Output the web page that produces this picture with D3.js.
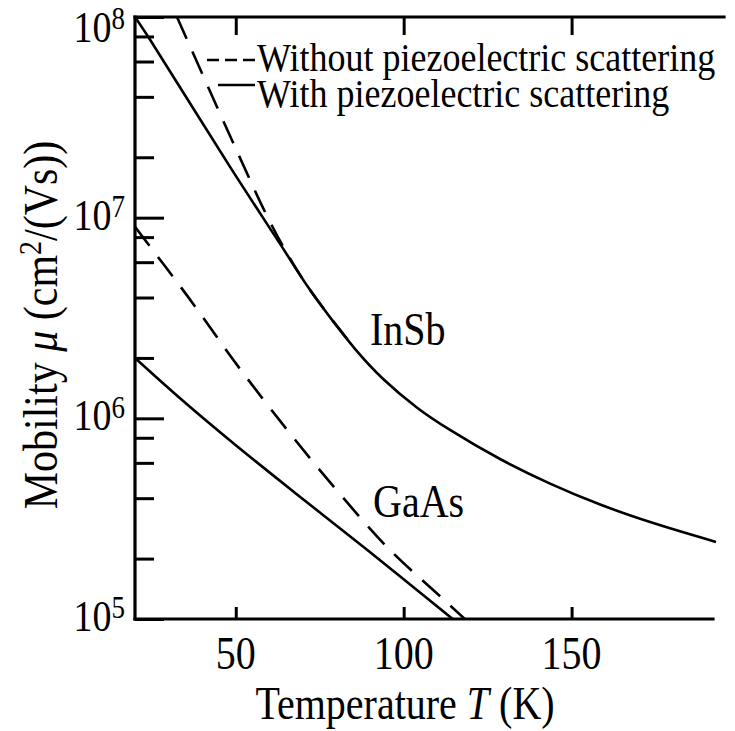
<!DOCTYPE html>
<html><head><meta charset="utf-8">
<script src="https://cdn.jsdelivr.net/npm/d3@7"></script>
<style>
body{margin:0;background:#fff}
svg{display:block}
text{font-family:"Liberation Serif","Times New Roman",serif;fill:#000}
</style>
</head><body>
<svg id="c" width="735" height="731"></svg>
<script>
// ---- data ----
const insbWithT    = [20, 24.5, 48.3, 63.2, 72.1, 85.5, 93.9, 104, 113.8, 128.7, 143.6, 158.5, 173.4, 193];
const insbWith     = [1.0e8, 7.7e7, 1.79e7, 7.4e6, 4.37e6, 2.22e6, 1.57e6, 1.13e6, 8.75e5, 6.27e5, 4.73e5, 3.72e5, 3.04e5, 2.42e5];
const insbWithoutT = [32.5, 42.3, 51.3, 58.7, 64.7, 72.1, 85.5];
const insbWithout  = [1.0e8, 4.28e7, 1.98e7, 1.07e7, 6.9e6, 4.37e6, 2.22e6];
const gaasWithoutT = [20, 35.8, 51.3, 68.2, 81.0, 95.3, 111.7, 118.2];
const gaasWithout  = [9.0e6, 4.03e6, 1.76e6, 7.62e5, 4.2e5, 2.26e5, 1.26e5, 1.0e5];
const gaasWithT    = [20, 33.4, 49.2, 69.1, 89.0, 114.6];
const gaasWith     = [2.0e6, 1.26e6, 7.54e5, 4.07e5, 2.22e5, 1.0e5];

const xTickValues = [50, 100, 150];
const yMajorValues = [1e5, 1e6, 1e7, 1e8];
const yExponents = ["5", "6", "7", "8"];
const yMinorValues = [2e5,4e5,6e5,8e5, 2e6,4e6,6e6,8e6, 2e7,4e7,6e7,8e7];
const legendLabels = ["Without piezoelectric scattering", "With piezoelectric scattering"];
const curveLabels = ["InSb", "GaAs"];

// ---- drawing ----
const svg = d3.select("#c");
const x = d3.scaleLinear().domain([20, 193]).range([135, 716]);
const y = d3.scaleLog().domain([1e5, 1e8]).range([619, 17]);
const SY = 1.15; // vertical stretch of the lettering

svg.append("clipPath").attr("id","clip").append("rect")
  .attr("x", x(20)).attr("y", y(1e8)).attr("width", 600).attr("height", y(1e5)-y(1e8));

const line = d3.line().x(d=>x(d[0])).y(d=>y(d[1])).curve(d3.curveCatmullRom.alpha(0.5));
const zip = (a,b)=>a.map((v,i)=>[v,b[i]]);
const plot = svg.append("g").attr("clip-path","url(#clip)");
function curve(T, V, dashed){
  plot.append("path").datum(zip(T,V)).attr("d", line)
    .attr("fill","none").attr("stroke","#000").attr("stroke-width",2.6)
    .attr("stroke-dasharray", dashed ? "24,14" : null);
}
curve(insbWithoutT, insbWithout, true);
curve(insbWithT, insbWith, false);
curve(gaasWithT, gaasWith, false);
curve(gaasWithoutT, gaasWithout, true);

// axes ticks
function styleAxis(g){
  g.select(".domain").remove();
  g.selectAll(".tick line").attr("stroke","#000").attr("stroke-width",3);
  g.selectAll(".tick text").remove();
}
svg.append("g").attr("transform",`translate(${x(20)},0)`)
  .call(d3.axisRight(y).tickValues(yMajorValues).tickSize(29)).call(styleAxis);
svg.append("g").attr("transform",`translate(${x(20)},0)`)
  .call(d3.axisRight(y).tickValues(yMinorValues).tickSize(19)).call(styleAxis);
svg.append("g").attr("transform",`translate(0,${y(1e5)})`)
  .call(d3.axisTop(x).tickValues(xTickValues).tickSize(12)).call(styleAxis);
svg.append("g").attr("transform",`translate(0,${y(1e8)})`)
  .call(d3.axisBottom(x).tickValues(xTickValues).tickSize(18)).call(styleAxis);

// frame lines
const fr = svg.append("g").attr("stroke","#000").attr("stroke-width",3.2).attr("stroke-linecap","square");
fr.append("line").attr("x1",x(20)).attr("x2",x(20)).attr("y1",y(1e8)).attr("y2",y(1e5));
fr.append("line").attr("x1",x(20)).attr("x2",x(193)-3).attr("y1",y(1e5)).attr("y2",y(1e5));
fr.append("line").attr("x1",x(20)).attr("x2",x(193)+8).attr("y1",y(1e8)).attr("y2",y(1e8));

function stext(px, py, size, anchor, sy){
  return svg.append("text")
    .attr("transform",`translate(${px},${py}) scale(1,${sy || SY})`)
    .attr("font-size", size).attr("text-anchor", anchor || "start");
}

// y tick labels
yMajorValues.forEach((v,i)=>{
  const t = stext(125, Math.max(y(v)+12, 42), 38, "end");
  t.append("tspan").text("10");
  t.append("tspan").attr("font-size",27).attr("dy",-11).text(yExponents[i]);
});
// x tick labels
xTickValues.forEach(v=>{
  stext(x(v), 669, 40, "middle").text(v);
});

// axis titles
const xt = stext(405, 719, 40, "middle");
xt.append("tspan").text("Temperature ");
xt.append("tspan").attr("font-style","italic").text("T");
xt.append("tspan").text(" (K)");

const yt = svg.append("text")
  .attr("transform",`translate(57,325) rotate(-90) scale(1,${SY})`)
  .attr("font-size",42).attr("text-anchor","middle");
yt.append("tspan").text("Mobility ");
yt.append("tspan").attr("font-style","italic").text("μ");
yt.append("tspan").text(" (cm");
yt.append("tspan").attr("font-size",28).attr("dy",-14).text("2");
yt.append("tspan").attr("dy",14).text("/(Vs))");

// curve labels
stext(370, 345, 40).text(curveLabels[0]);
stext(373, 517, 40).text(curveLabels[1]);

// legend
const lg = svg.append("g").attr("stroke","#000").attr("stroke-width",2.6);
lg.append("line").attr("x1",207).attr("x2",255).attr("y1",60).attr("y2",60).attr("stroke-dasharray","12,6");
lg.append("line").attr("x1",218).attr("x2",255).attr("y1",85).attr("y2",85);
stext(257, 71, 36, "start", 1.1).text(legendLabels[0]);
stext(257, 107, 36, "start", 1.1).text(legendLabels[1]);
</script>
</body></html>
